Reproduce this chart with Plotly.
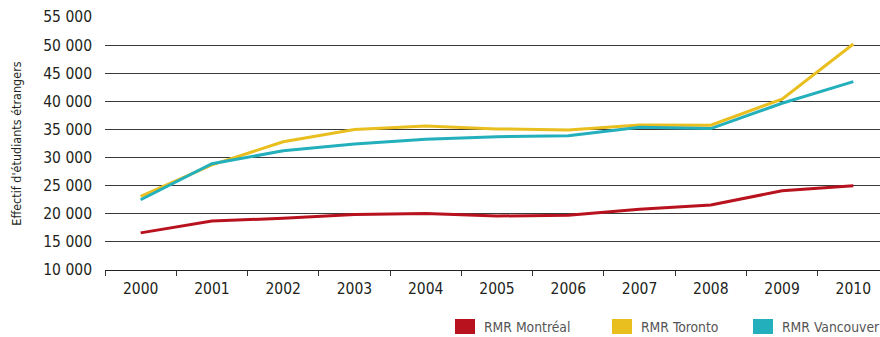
import plotly.graph_objects as go

years = ["2000", "2001", "2002", "2003", "2004", "2005", "2006", "2007", "2008", "2009", "2010"]
montreal = [16600, 18700, 19200, 19850, 20050, 19600, 19750, 20800, 21550, 24100, 25000]
toronto = [23100, 28700, 32800, 35000, 35600, 35100, 34900, 35800, 35750, 40400, 50200]
vancouver = [22500, 28900, 31200, 32400, 33250, 33700, 33900, 35400, 35150, 39650, 43500]
series_names = ["RMR Montréal", "RMR Toronto", "RMR Vancouver"]
series_colors = ["#B8121E", "#E9BE1F", "#23AFBB"]
y_title = "Effectif d'étudiants étrangers"

FONT = "DejaVu Sans Condensed, Liberation Sans Narrow, Arial Narrow, sans-serif"

fig = go.Figure()
for name, vals, col in zip(series_names, [montreal, toronto, vancouver], series_colors):
    fig.add_trace(go.Scatter(x=years, y=vals, name=name, mode="lines",
                             line=dict(color=col, width=3), showlegend=False))

W, H = 880, 337
ml, mr, mt, mb = 105, 0, 17, 67
pw, ph = W - ml - mr, H - mt - mb

# manual legend (rectangular swatches)
leg_py = 326.5
swatch_x = [455, 612, 753]
shapes = []
annotations = []
for name, col, sx in zip(series_names, series_colors, swatch_x):
    x0 = (sx - ml) / pw
    x1 = (sx + 20 - ml) / pw
    y0 = (H - mb - (leg_py + 7.5)) / ph
    y1 = (H - mb - (leg_py - 7.5)) / ph
    shapes.append(dict(type="rect", xref="paper", yref="paper", x0=x0, x1=x1, y0=y0, y1=y1,
                       fillcolor=col, line=dict(width=0)))
    annotations.append(dict(xref="paper", yref="paper", x=(sx + 27 - ml) / pw,
                            y=(H - mb - leg_py) / ph, text=name, showarrow=False,
                            xanchor="left", yanchor="middle",
                            font=dict(family=FONT, size=13.8, color="#555555")))

fig.update_layout(
    width=W, height=H,
    margin=dict(l=ml, r=mr, t=mt, b=mb, pad=0),
    paper_bgcolor="white", plot_bgcolor="white",
    separators=". ",
    font=dict(family=FONT, size=15.5, color="#231F20"),
    shapes=shapes, annotations=annotations,
    xaxis=dict(type="category", range=[-0.5, 10.374], tickson="boundaries",
               ticks="outside", ticklen=5, tickcolor="#333333", tickwidth=1,
               showgrid=False, showline=True, linecolor="#222222", linewidth=1,
               ticklabelstandoff=4,
               tickfont=dict(family=FONT, size=15.5, color="#231F20"), fixedrange=True),
    yaxis=dict(range=[10000, 55000], tickvals=list(range(10000, 55001, 5000)),
               tickformat=",d", showgrid=True, gridcolor="#3a3a3a", gridwidth=1,
               zeroline=False, showline=False, ticks="", ticklabelstandoff=12,
               tickfont=dict(family=FONT, size=15.5, color="#231F20"),
               title=dict(text=y_title, standoff=18,
                          font=dict(family=FONT, size=12.5, color="#231F20"))),
)

fig.write_html("out.html")
